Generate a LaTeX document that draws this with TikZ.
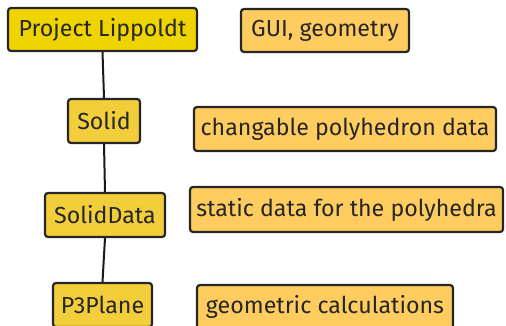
\documentclass[tikz,border=0pt]{standalone}
\usepackage{fontspec}
\setmainfont{Fira Sans}
\begin{document}
\begin{tikzpicture}[x=1pt,y=-1pt,
  box/.style={draw=black!85, line width=2.2pt, rounded corners=3pt, inner sep=0pt,
    font=\fontsize{23.2}{26}\selectfont, text=black!85},
  mainbox/.style={box, fill={rgb,255:red,238;green,212;blue,0}},
  classbox/.style={box, fill={rgb,255:red,242;green,206;blue,58}},
  notebox/.style={box, fill={rgb,255:red,255;green,204;blue,96}},
  link/.style={draw=black!90, line width=2pt}]
\useasboundingbox (0,0) rectangle (506,326);
\node[mainbox, minimum width=189pt, minimum height=43pt] (lip) at (102.5,29.5) {Project Lippoldt};
\node[notebox, minimum width=168pt, minimum height=43pt] (gui) at (325,30.5) {GUI, geometry};
\node[classbox, minimum width=72pt, minimum height=44pt] (solid) at (104,121) {Solid};
\node[notebox, minimum width=302pt, minimum height=44pt] (chg) at (345,129) {changable polyhedron data};
\node[classbox, minimum width=120pt, minimum height=44pt] (sdata) at (105,215) {SolidData};
\node[notebox, minimum width=313pt, minimum height=45pt] (stat) at (346.5,209.5) {static data for the polyhedra};
\node[classbox, minimum width=99pt, minimum height=44pt] (plane) at (102.5,305) {P3Plane};
\node[notebox, minimum width=256pt, minimum height=44pt] (geo) at (325,307) {geometric calculations};
\draw[link] (lip.south) -- (solid.north);
\draw[link] (solid.south) -- (sdata.north);
\draw[link] (sdata.south) -- (plane.north);
\end{tikzpicture}
\end{document}
